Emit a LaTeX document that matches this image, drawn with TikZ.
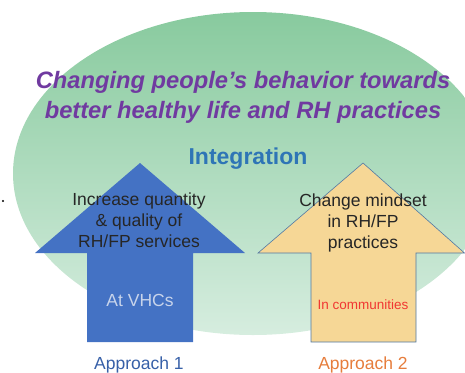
\documentclass[tikz,border=0pt]{standalone}
\usepackage{fontspec}
\setmainfont{Liberation Sans}
\definecolor{ellTop}{RGB}{136,202,158}
\definecolor{ellBot}{RGB}{214,237,223}
\definecolor{titlePurple}{RGB}{112,58,160}
\definecolor{integBlue}{RGB}{46,117,182}
\definecolor{arrowBlue}{RGB}{68,114,196}
\definecolor{arrowYellow}{RGB}{246,215,150}
\definecolor{arrowEdge}{RGB}{80,120,165}
\definecolor{textDark}{RGB}{38,38,38}
\definecolor{vhcText}{RGB}{200,212,235}
\definecolor{commRed}{RGB}{240,55,50}
\definecolor{appBlue}{RGB}{55,96,168}
\definecolor{appOrange}{RGB}{230,125,60}
\tikzset{
  arrtext/.style={font=\fontsize{17.5}{21}\selectfont, align=center, inner sep=0pt, text=textDark},
  lbl/.style={inner sep=0pt, anchor=base},
}
\begin{document}
\begin{tikzpicture}[x=1pt,y=-1pt]
\useasboundingbox (0,0) rectangle (465,372);
\begin{scope}
\clip (0,0) rectangle (465,372);
\shade[top color=ellTop, bottom color=ellBot] (253,173.5) ellipse [x radius=240pt, y radius=161.5pt];
% left arrow
\fill[arrowBlue] (140,163) -- (245,253) -- (193,253) -- (193,342) -- (87,342) -- (87,253) -- (35,253) -- cycle;
% right arrow
\filldraw[fill=arrowYellow, draw=arrowEdge, line width=0.6pt] (363,163) -- (464.5,253) -- (416,253) -- (416,342) -- (311,342) -- (311,253) -- (258,253) -- cycle;
\end{scope}
\fill[black] (3,201) circle [radius=1.1pt];
\node[anchor=north, inner sep=0pt, align=center, text=titlePurple, font=\bfseries\itshape\fontsize{23.7}{30}\selectfont] (title) at (243,71) {Changing people’s behavior towards\\better healthy life and RH practices};
\node[lbl, text=integBlue, font=\bfseries\fontsize{23}{27}\selectfont] (integ) at (248,164) {Integration};
\node[arrtext, anchor=north] (t1) at (139,192.5) {Increase quantity\\\& quality of\\RH/FP services};
\node[arrtext, anchor=north] (t2) at (363,193.5) {Change mindset\\in RH/FP\\practices};
\node[lbl, text=vhcText, font=\fontsize{17.5}{21}\selectfont] (vhc) at (140,306.5) {At VHCs};
\node[lbl, text=commRed, font=\fontsize{13.5}{16}\selectfont] (comm) at (363,309) {In communities};
\node[lbl, text=appBlue, font=\fontsize{17.5}{21}\selectfont] (ap1) at (139,369.5) {Approach 1};
\node[lbl, text=appOrange, font=\fontsize{17.5}{21}\selectfont] (ap2) at (363,369.5) {Approach 2};
\end{tikzpicture}
\end{document}
